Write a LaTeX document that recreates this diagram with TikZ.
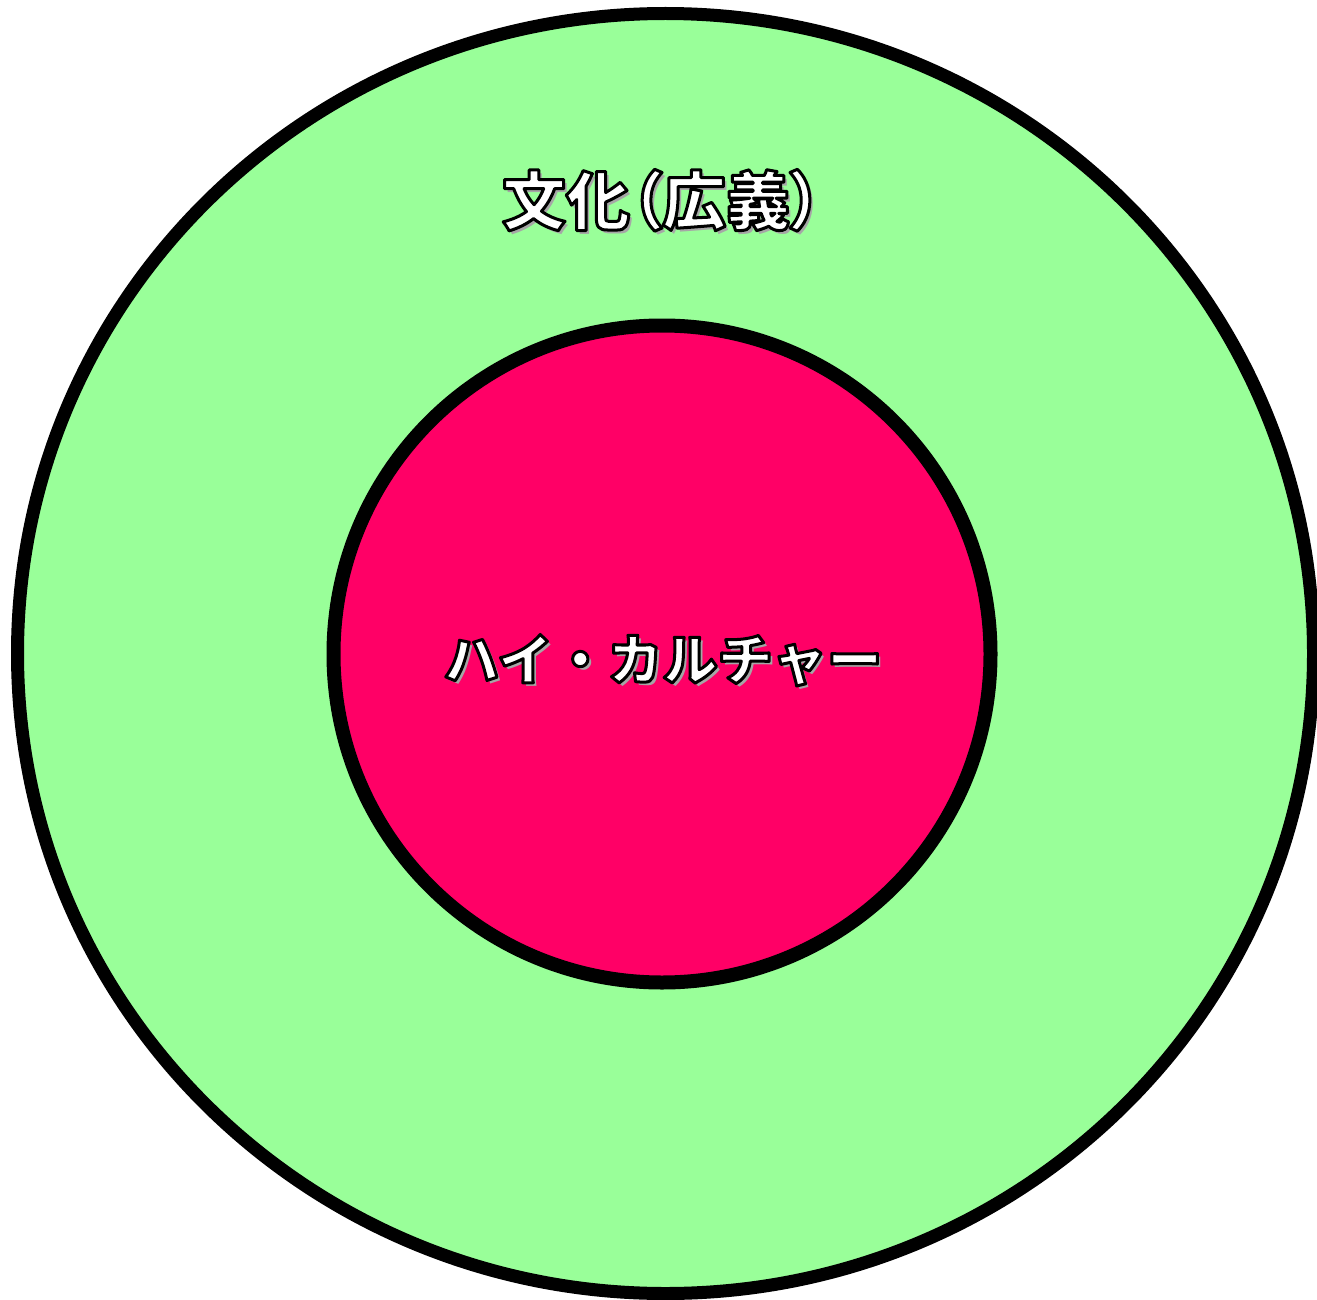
\documentclass[tikz,border=0pt]{standalone}
\usepackage{fontspec}
\newfontfamily\jpfont{Noto Sans CJK JP}
\newfontfamily\jppfont[RawFeature=+palt]{Noto Sans CJK JP}
\definecolor{outergreen}{HTML}{99FF99}
\definecolor{innerpink}{HTML}{FF0066}
\newcommand\fancytext[1]{\makebox[0pt][l]{\hspace{3.5pt}\raisebox{-3.5pt}{\textcolor{black!35}{#1}}}{\color{white}\special{pdf:literal direct 0 G 3 w 1 j 2 Tr}#1\special{pdf:literal direct 0 Tr}}}
\tikzset{
  ring/.style={draw=black, line width=#1},
  label/.style={inner sep=0pt, anchor=center}
}
\begin{document}
\begin{tikzpicture}[x=1pt,y=1pt]
\useasboundingbox (0,0) rectangle (1317,-1300);
\fill[white] (0,0) rectangle (1317,-1300);
\draw[ring=13pt, fill=outergreen] (665.5,-653.5) ellipse [x radius=648, y radius=640];
\node[ring=14pt, fill=innerpink, circle, minimum size=657pt, inner sep=0pt] (inner) at (662,-654) {};
\node[label, font=\jppfont\bfseries\fontsize{64pt}{64pt}\selectfont] (broad) at (662,-202) {\fancytext{文化（広義）}};
\node[label, font=\jpfont\bfseries\fontsize{55pt}{55pt}\selectfont] (high) at (663,-662) {\fancytext{ハイ・カルチャー}};
\end{tikzpicture}
\end{document}
